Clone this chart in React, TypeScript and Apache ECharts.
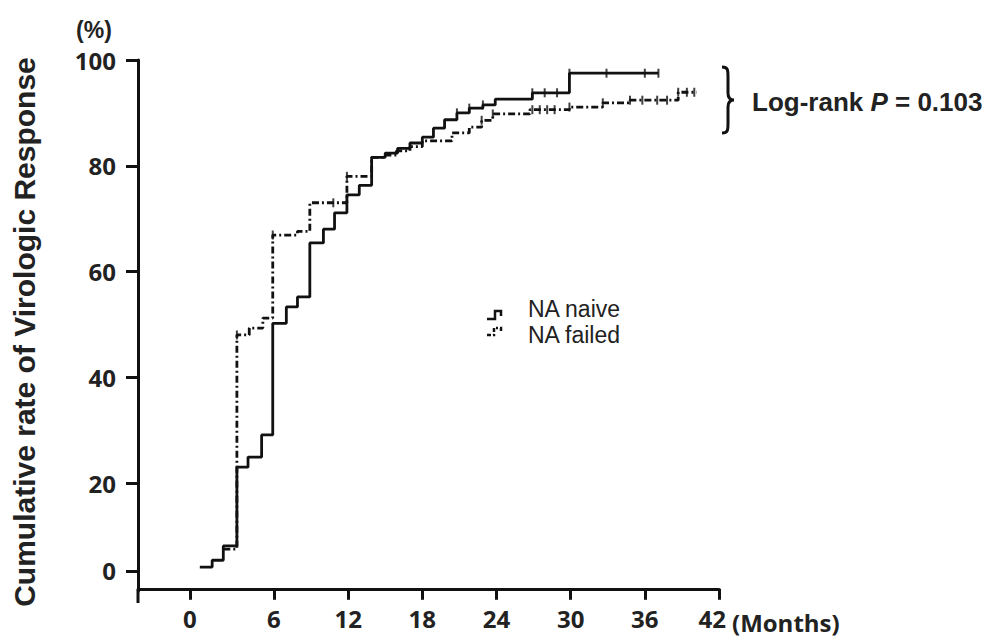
import React, { useEffect, useRef } from "react";
import * as echarts from "echarts";

// ---- data (months, cumulative %) ----
const naiveMonths = [0, 1.0, 1.9, 3.0, 3.9, 5.0, 5.9, 7.0, 7.9, 8.9, 10.0, 10.9, 11.9, 12.9, 13.9, 15.0, 16.0, 17.0, 18.0, 18.9, 19.8, 20.8, 21.8, 22.9, 23.9, 26.9, 29.9, 37.1];
const naivePct = [4.1, 5.4, 8.1, 23.0, 24.9, 29.1, 50.2, 53.3, 55.2, 65.4, 68.0, 71.1, 74.5, 76.3, 81.6, 82.4, 83.3, 84.3, 85.4, 87.1, 88.7, 90.0, 90.9, 91.5, 92.6, 93.8, 97.5, 97.5];

const failedMonths = [1.9, 3.0, 4.0, 5.1, 5.9, 7.9, 8.9, 11.9, 13.9, 15.0, 15.9, 17.0, 18.0, 20.4, 21.8, 22.8, 23.7, 26.7, 29.9, 32.6, 34.8, 38.7, 40.2];
const failedPct = [7.5, 48.0, 49.3, 51.2, 66.9, 67.6, 73.0, 78.0, 81.6, 82.0, 82.8, 83.6, 84.7, 86.2, 87.3, 88.6, 89.8, 90.6, 91.1, 91.9, 92.4, 93.9, 93.9];

const naiveCensorMonths = [20.8, 21.8, 22.9, 26.9, 27.9, 28.9, 29.9, 32.9, 36.0, 37.1];
const naiveCensorPct = [90.0, 90.9, 91.5, 93.8, 93.8, 93.8, 97.5, 97.5, 97.5, 97.5];

const failedCensorMonths = [3.0, 5.9, 10.8, 11.9, 22.8, 23.7, 26.9, 27.5, 28.1, 28.7, 29.9, 32.6, 34.8, 35.8, 37.0, 37.8, 38.7, 39.4, 40.0];
const failedCensorPct = [48.0, 66.9, 73.0, 78.0, 88.6, 89.8, 90.6, 90.6, 90.6, 90.6, 91.1, 91.9, 92.4, 92.4, 92.4, 92.4, 93.9, 93.9, 93.9];

// ---- axis ticks (the "0" ticks sit in an offset position as in the original) ----
const xTickValues = [-0.8, 6, 12, 18, 24, 30, 36, 42];
const xLabelValues = [-0.8, 6, 12, 18, 24, 30, 36, 41.45];
const xTickLabels = ["0", "6", "12", "18", "24", "30", "36", "42"];
const yTickValues = [3.4, 20, 40, 60, 80, 100];
const yTickLabels = ["0", "20", "40", "60", "80", "100"];

const seriesNames = ["NA naive", "NA failed"];
const pValueText = "0.103";

const zip = (a: number[], b: number[]) => a.map((v, i) => [v, b[i]]);
const lookup = (vals: number[], labels: string[]) => (v: number) => {
  const i = vals.findIndex((t) => Math.abs(t - v) < 0.01);
  return i >= 0 ? labels[i] : "";
};

echarts.graphic.registerShape(
  "brace",
  echarts.graphic.extendPath(
    "M0,0 C6,0 6,3 6,10 L6,26 C6,31 8,33 12,33 C8,33 6,35 6,40 L6,56 C6,63 6,66 0,66",
    {}
  )
);

const INK = "#111";
const TXT = "#222";

export default function App() {
  const ref = useRef<HTMLDivElement>(null);
  useEffect(() => {
    document.body.style.margin = "0";
    if (!ref.current) return;
    const chart = echarts.init(ref.current, undefined, { renderer: "svg" });
    const dashDot = [7, 3, 2, 3];
    chart.setOption({
      animation: false,
      backgroundColor: "#fff",
      grid: { left: 138, right: 271, top: 60, bottom: 46, containLabel: false, outerBoundsMode: "none" },
      xAxis: {
        type: "value",
        min: -5,
        max: 42,
        axisLine: { show: true, lineStyle: { color: INK, width: 3 } },
        axisTick: { show: true, length: 11, lineStyle: { color: INK, width: 3 }, customValues: xTickValues },
        axisLabel: {
          customValues: xLabelValues,
          formatter: lookup(xLabelValues, xTickLabels),
          color: TXT,
          fontFamily: "Open Sans",
          fontWeight: "bold",
          fontSize: 24,
          margin: 15,
        },
        splitLine: { show: false },
      },
      yAxis: {
        type: "value",
        min: -0.42,
        max: 100,
        axisLine: { show: true, onZero: false, lineStyle: { color: INK, width: 3 } },
        axisTick: { show: true, length: 12, lineStyle: { color: INK, width: 3 }, customValues: yTickValues },
        axisLabel: {
          customValues: yTickValues,
          formatter: lookup(yTickValues, yTickLabels),
          color: TXT,
          fontFamily: "Open Sans",
          fontWeight: "bold",
          fontSize: 24,
          margin: 22,
        },
        splitLine: { show: false },
      },
      series: [
        {
          name: seriesNames[0],
          type: "line",
          step: "end",
          symbol: "none",
          data: zip(naiveMonths, naivePct),
          lineStyle: { color: INK, width: 2.8, type: "solid" },
        },
        {
          name: seriesNames[1],
          type: "line",
          step: "end",
          symbol: "none",
          data: zip(failedMonths, failedPct),
          lineStyle: { color: INK, width: 2.8, type: dashDot },
        },
        {
          type: "scatter",
          symbol: "rect",
          symbolSize: [2, 9],
          itemStyle: { color: INK },
          data: zip(naiveCensorMonths, naiveCensorPct),
        },
        {
          type: "scatter",
          symbol: "rect",
          symbolSize: [2, 9],
          itemStyle: { color: INK },
          data: zip(failedCensorMonths, failedCensorPct),
        },
      ],
      graphic: [
        { type: "line", shape: { x1: 138, y1: 590, x2: 138, y2: 603 }, style: { stroke: INK, lineWidth: 3 } },
        {
          type: "text",
          x: 94,
          y: 30,
          style: { text: "(%)", align: "center", verticalAlign: "middle", fill: TXT, font: "bold 23px 'Liberation Sans'" },
        },
        {
          type: "text",
          x: 24,
          y: 332,
          rotation: Math.PI / 2,
          style: {
            text: "Cumulative rate of Virologic Response",
            align: "center",
            verticalAlign: "middle",
            fill: TXT,
            font: "bold 30px 'Liberation Sans'",
          },
        },
        {
          type: "text",
          x: 732,
          y: 622,
          style: { text: "(Months)", align: "left", verticalAlign: "middle", fill: TXT, font: "bold 24px 'Open Sans'" },
        },
        { type: "brace", x: 722, y: 67, style: { fill: "none", stroke: INK, lineWidth: 3 } },
        {
          type: "text",
          x: 752,
          y: 102,
          style: {
            text: "Log-rank {i|P} = " + pValueText,
            align: "left",
            verticalAlign: "middle",
            fill: TXT,
            font: "bold 26px 'Liberation Sans'",
            rich: { i: { fontStyle: "italic", fontWeight: "bold", fontSize: 26, fontFamily: "Liberation Sans", fill: TXT } },
          },
        },
        {
          type: "polyline",
          shape: { points: [[487, 319], [495, 319], [495, 311], [501, 311], [501, 316]] },
          style: { stroke: INK, lineWidth: 2.5, fill: "none" },
        },
        {
          type: "polyline",
          shape: { points: [[487, 335], [494, 335], [494, 328], [501, 328], [501, 333]] },
          style: { stroke: INK, lineWidth: 2.5, fill: "none", lineDash: [4, 2, 2, 2] },
        },
        {
          type: "text",
          x: 528,
          y: 309,
          style: { text: seriesNames[0], align: "left", verticalAlign: "middle", fill: TXT, font: "23px 'Liberation Sans'" },
        },
        {
          type: "text",
          x: 528,
          y: 335,
          style: { text: seriesNames[1], align: "left", verticalAlign: "middle", fill: TXT, font: "23px 'Liberation Sans'" },
        },
      ],
    });
    return () => chart.dispose();
  }, []);
  return <div ref={ref} style={{ width: 990, height: 637 }} />;
}
